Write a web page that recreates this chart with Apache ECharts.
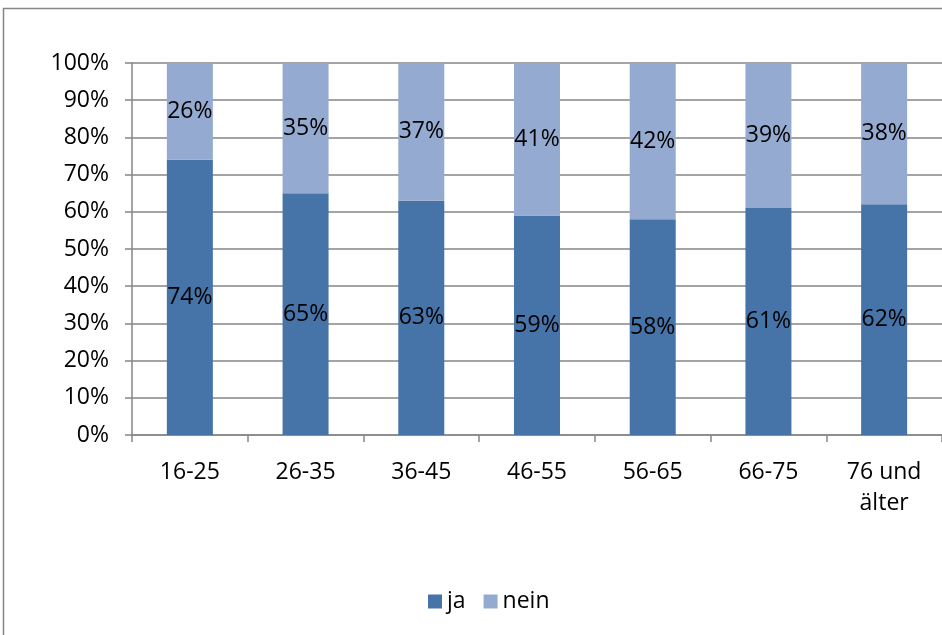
<!DOCTYPE html>
<html><head><meta charset="utf-8">
<script src="https://cdn.jsdelivr.net/npm/echarts@6/dist/echarts.min.js"></script>
<style>html,body{margin:0;padding:0;background:#fff}#c{width:942px;height:635px}</style>
</head><body><div id="c"></div>
<script>
const categories = ["16-25","26-35","36-45","46-55","56-65","66-75","76 und älter"];
const ja = [74,65,63,59,58,61,62];
const nein = [26,35,37,41,42,39,38];
const yTicks = [0,10,20,30,40,50,60,70,80,90,100];

const FONT = "Open Sans";
const FS = 23;
const chart = echarts.init(document.getElementById('c'), null, {renderer:'canvas'});
const labelCfg = {show:true, position:'inside', formatter: p => p.value + '%', color:'#000', fontFamily:FONT, fontSize:FS};
chart.setOption({
  animation:false,
  graphic:[{type:'rect', shape:{x:3.5,y:8.5,width:1000,height:700}, style:{fill:'none', stroke:'#868686', lineWidth:1.5}, z:-1}],
  grid:{left:132, top:63, right:-9, bottom:200, containLabel:false},
  legend:{data:['ja','nein'], top:585, left:423, itemWidth:14, itemHeight:14, itemGap:18, icon:'rect',
    textStyle:{fontFamily:FONT, fontSize:FS, color:'#000'}},
  xAxis:{type:'category', data:categories, axisLine:{lineStyle:{color:'#868686', width:1.5}},
    axisTick:{show:true, alignWithLabel:false, length:7, lineStyle:{color:'#868686', width:1.5}},
    axisLabel:{color:'#000', fontFamily:FONT, fontSize:FS, margin:22, lineHeight:31, interval:0,
      formatter: v => v.replace('und ', 'und\n')}},
  yAxis:{type:'value', min:yTicks[0], max:yTicks[yTicks.length-1], interval:10,
    axisLine:{show:true, lineStyle:{color:'#868686', width:1.5}},
    axisTick:{show:true, length:7, lineStyle:{color:'#868686', width:1.5}},
    splitLine:{show:true, lineStyle:{color:'#868686', width:1.5}},
    axisLabel:{color:'#000', fontFamily:FONT, fontSize:FS, margin:23, formatter: v => v + '%'}},
  series:[
    {name:'ja', type:'bar', stack:'a', data:ja, barWidth:46, itemStyle:{color:'#4673A8'}, label:labelCfg},
    {name:'nein', type:'bar', stack:'a', data:nein, barWidth:46, itemStyle:{color:'#95AAD1'}, label:labelCfg}
  ]
});
</script></body></html>
